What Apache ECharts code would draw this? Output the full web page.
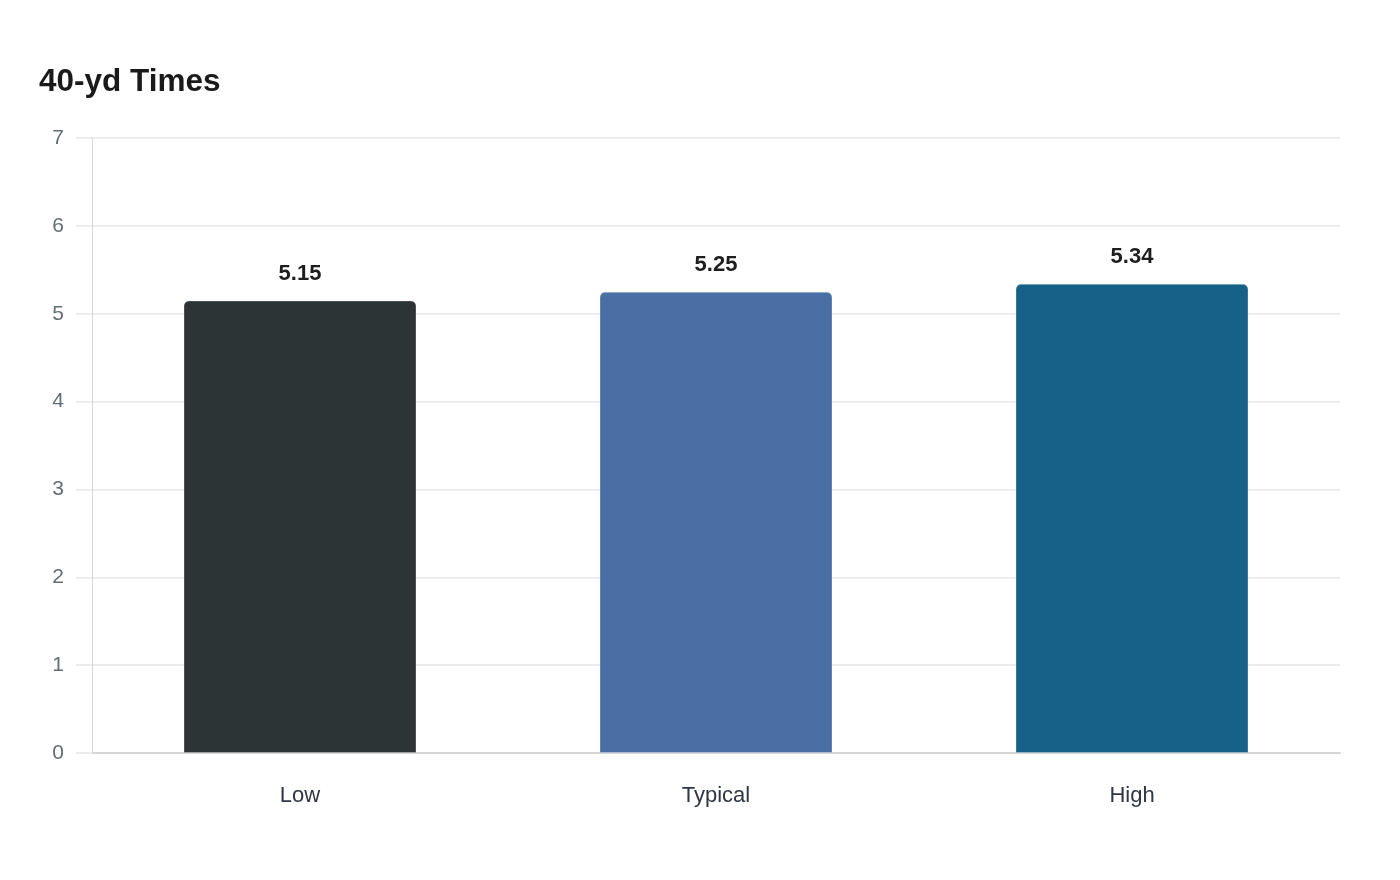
<!DOCTYPE html>
<html><head><meta charset="utf-8">
<script src="https://cdn.jsdelivr.net/npm/echarts@6/dist/echarts.min.js"></script>
<style>html,body{margin:0;padding:0;background:#fff}#c{width:1400px;height:880px}</style>
</head><body><div id="c"></div>
<script>
const categories = ['Low', 'Typical', 'High'];
const values = [5.15, 5.25, 5.34];
const barColors = ['#2d3436', '#4a6fa5', '#176087'];
const yTicks = [0, 1, 2, 3, 4, 5, 6, 7];

const chart = echarts.init(document.getElementById('c'));
chart.setOption({
  backgroundColor: '#fff',
  animation: false,
  title: {
    text: '40-yd Times', left: 34, top: 61,
    textStyle: { fontFamily: 'Liberation Sans', fontSize: 31.5, fontWeight: 'bold', color: '#1a1a1a' }
  },
  grid: { left: 92, right: 60, top: 138, bottom: 127, containLabel: false },
  xAxis: {
    type: 'category', data: categories,
    axisLine: { show: true, lineStyle: { color: '#d6d6d6', width: 2 } },
    axisTick: { show: false },
    axisLabel: { margin: 32, fontFamily: 'Liberation Sans', fontSize: 22, color: '#2f3542' }
  },
  yAxis: {
    type: 'value', min: yTicks[0], max: yTicks[yTicks.length - 1], interval: 1,
    axisLine: { show: true, lineStyle: { color: '#d0d0d0', type: 'dotted', width: 1 } },
    axisTick: { show: true, length: 16, lineStyle: { color: '#ececec', width: 2 } },
    splitLine: { show: true, lineStyle: { color: '#ececec', width: 2 } },
    axisLabel: { margin: 28, fontFamily: 'Liberation Sans', fontSize: 21, color: '#636e72' }
  },
  series: [{
    type: 'bar',
    barWidth: '56%',
    data: values.map((v, i) => ({ value: v, itemStyle: { color: barColors[i] } })),
    itemStyle: { borderRadius: [5, 5, 0, 0], borderColor: 'rgba(255,255,255,0.25)', borderWidth: 1 },
    label: {
      show: true, position: 'top', distance: 16,
      fontFamily: 'Liberation Sans', fontSize: 22, fontWeight: 'bold', color: '#1e1e1e',
      formatter: p => p.value.toFixed(2)
    }
  }]
});
</script></body></html>
